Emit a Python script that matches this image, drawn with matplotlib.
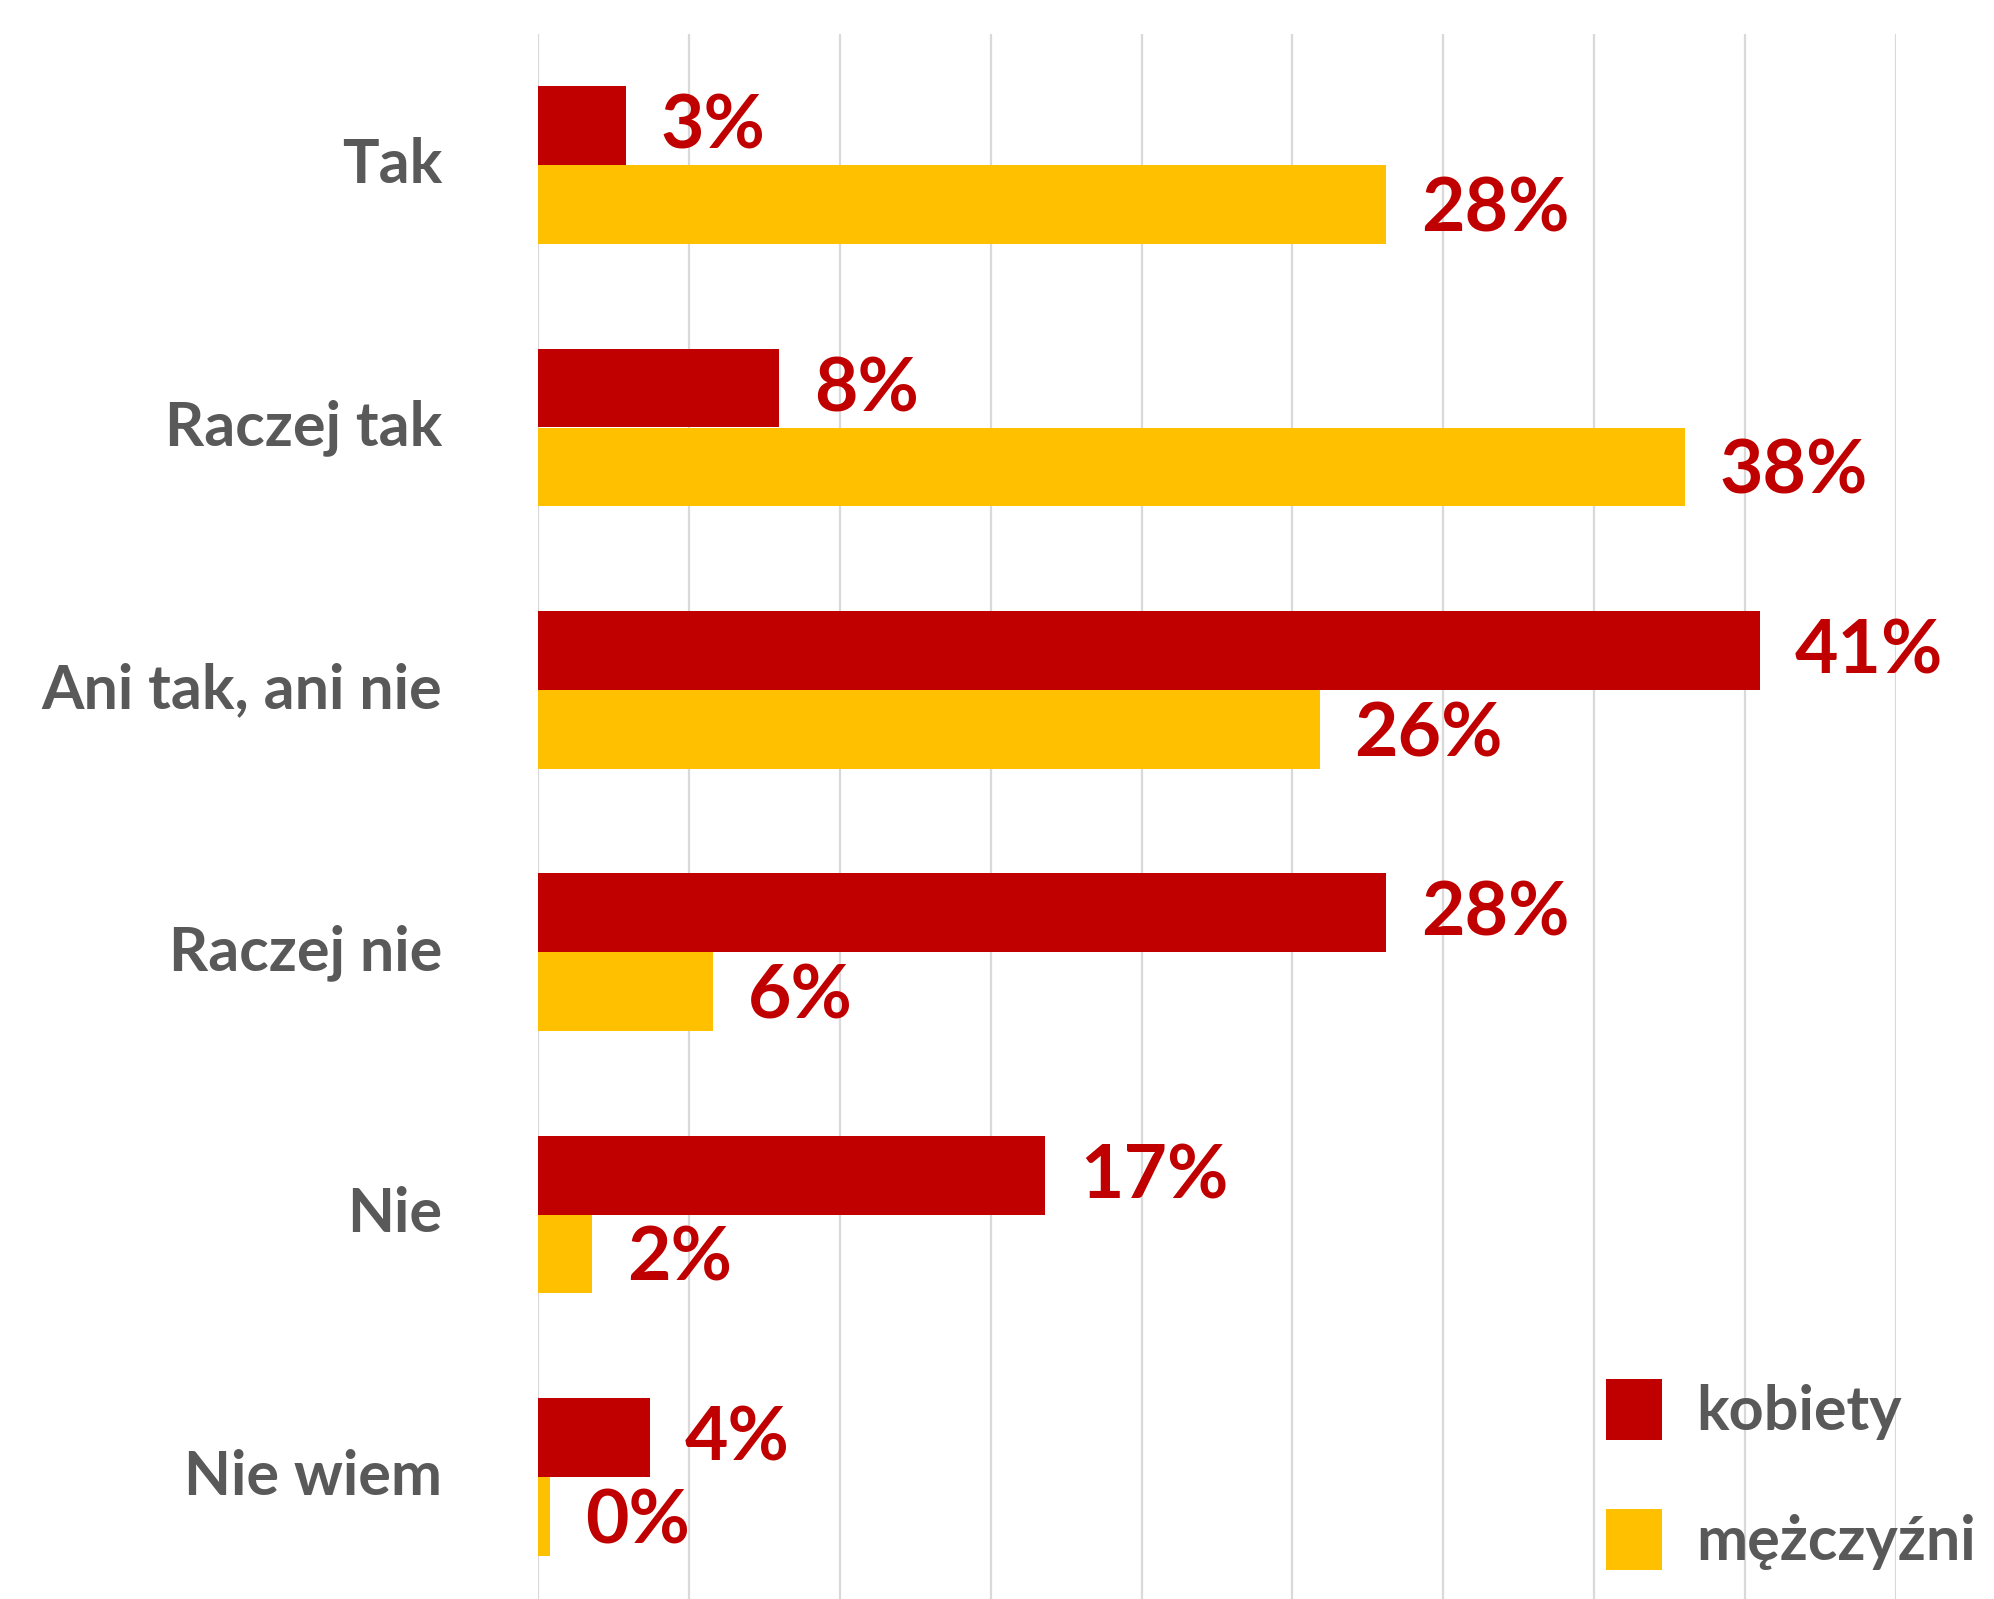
import matplotlib.pyplot as plt
import numpy as np

plt.rcParams['font.family'] = ['Lato', 'DejaVu Sans']

# survey answers, top to bottom
categories = ['Tak', 'Raczej tak', 'Ani tak, ani nie', 'Raczej nie', 'Nie', 'Nie wiem']
series_names = ['kobiety', 'mężczyźni']

# shares in percent
kobiety   = [2.9, 8.0, 40.5, 28.1, 16.8, 3.7]
mezczyzni = [28.1, 38.0, 25.9, 5.8, 1.8, 0.4]

# labels as printed on the chart
kobiety_labels   = ['3%', '8%', '41%', '28%', '17%', '4%']
mezczyzni_labels = ['28%', '38%', '26%', '6%', '2%', '0%']

red = '#C00000'
yellow = '#FFC000'
grey = '#595959'

W, H = 1994, 1599
fig = plt.figure(figsize=(W / 100, H / 100), dpi=100)
ax = fig.add_axes([538 / W, 1 - (34 + 1574) / H, (1896 - 538) / W, 1574 / H])

y = np.arange(len(categories))
h = 0.3
b1 = ax.barh(y - h / 2, kobiety, h, color=red, label=series_names[0], zorder=3)
b2 = ax.barh(y + h / 2, mezczyzni, h, color=yellow, label=series_names[1], zorder=3)

for bars, labels, dy in ((b1, kobiety_labels, -1), (b2, mezczyzni_labels, -4)):
    for rect, lab in zip(bars, labels):
        ax.annotate(lab, (rect.get_width(), rect.get_y() + rect.get_height() / 2),
                    xytext=(25, dy), textcoords='offset points', va='center', ha='left',
                    fontsize=54, fontweight='bold', color=red, clip_on=False, zorder=4)

ax.set_xlim(0, 45)
ax.set_ylim(len(categories) - 0.5, -0.5)
ax.set_xticks(np.arange(0, 46, 5))
ax.xaxis.grid(True, color='#D9D9D9', linewidth=1.6, zorder=0)
ax.tick_params(axis='x', bottom=False, labelbottom=False)
ax.set_yticks(y)
ax.set_yticklabels(categories, fontsize=44, fontweight='bold', color=grey, va='center')
ax.tick_params(axis='y', length=0, pad=69)
for s in ax.spines.values():
    s.set_visible(False)

leg = ax.legend(handles=[b1, b2], loc='upper left', bbox_to_anchor=(1606 / W, 1 - 1379 / H),
                bbox_transform=fig.transFigure, frameon=False, borderpad=0, borderaxespad=0,
                handlelength=0.92, handleheight=1.15, handletextpad=0.55, labelspacing=1.13,
                prop={'size': 44, 'weight': 'bold'})
for t in leg.get_texts():
    t.set_color(grey)

plt.savefig('out.png', dpi=100)
